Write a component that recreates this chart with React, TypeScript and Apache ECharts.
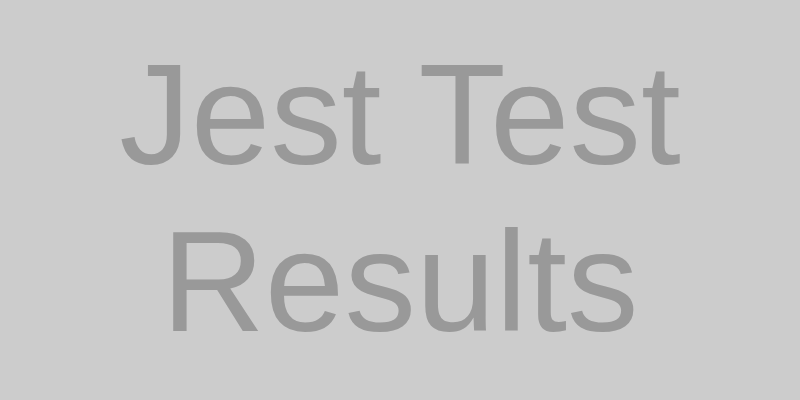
import React, { useEffect, useRef } from "react";
import * as echarts from "echarts";

const titleLines = ["Jest Test", "Results"];
const lineCenters = [114, 281];

const App = () => {
  const chartRef = useRef<HTMLDivElement>(null);

  useEffect(() => {
    const chart = echarts.init(chartRef.current, null, { renderer: "svg" });

    chart.setOption({
      animation: false,
      backgroundColor: "#cccccc",
      graphic: titleLines.map((line, i) => ({
        type: "text",
        x: 400,
        y: lineCenters[i],
        style: {
          text: line,
          fill: "#999999",
          font: '143px "Liberation Sans", Arial, sans-serif',
          textAlign: "center",
          textVerticalAlign: "middle",
        },
      })),
    });

    return () => {
      chart.dispose();
    };
  }, []);

  return (
    <div
      ref={chartRef}
      style={{ position: "fixed", left: 0, top: 0, width: "800px", height: "400px" }}
    ></div>
  );
};

export default App;
